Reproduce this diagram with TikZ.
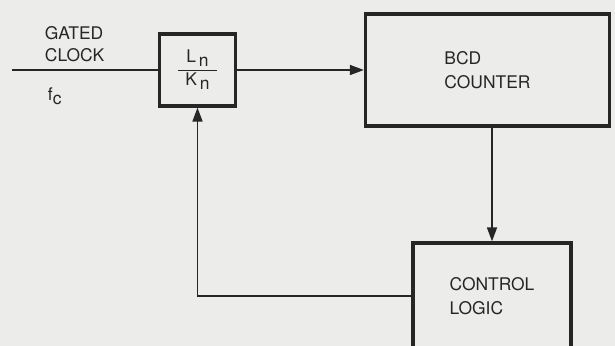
\documentclass[tikz,border=0pt]{standalone}
\usepackage{amsmath}
\usepackage{fontspec}
\setmainfont{TeX Gyre Heros}
\usepackage{xcolor}
\usepackage{tikz}
\usetikzlibrary{arrows.meta,positioning}

\definecolor{paper}{HTML}{ECECEA}
\definecolor{ink}{HTML}{262626}
\newcommand{\lowsub}[1]{\raisebox{-0.45ex}{#1}}

\tikzset{
    block/.style={draw=ink, line width=2.3pt, align=left, inner sep=0pt,
        font=\fontsize{12.4}{17.5}\selectfont, text=ink},
    wire/.style={draw=ink, line width=1.2pt},
    flow/.style={wire, -{Triangle[length=0.35cm,width=0.25cm]}},
    caption/.style={font=\fontsize{12.4}{15.5}\selectfont, text=ink, align=left}
}

\begin{document}
\begin{tikzpicture}[x=0.025cm, y=-0.025cm]
    \useasboundingbox (0,0) rectangle (615,346);
    \clip (0,0) rectangle (615,346);
    \fill[paper] (0,0) rectangle (615,346);
    % blocks
    \node[block, minimum width=1.9cm, minimum height=1.8cm] (ratio) at (197.5,70)
        {$\dfrac{\hspace{0.2cm}\text{L\,\lowsub{n}}\hspace{0.2cm}}{\text{K\,\lowsub{n}}}$};
    \node[block, minimum width=6.1cm, minimum height=2.8cm] (counter) at (487.5,70)
        {BCD\\COUNTER};
    \node[block, minimum width=3.95cm, minimum height=2.65cm] (logic) at (492,296)
        {CONTROL\\LOGIC};
    % input
    \coordinate (in) at (12,70);
    \node[caption, anchor=west] (gated) at (40,44) {GATED\\CLOCK};
    \node[caption, anchor=west] (fc) at (43,96) {f\lowsub{c}};
    % connectors
    \draw[wire] (in) -- (ratio.west);
    \draw[flow] (ratio.east) -- (counter.west);
    \draw[flow] (counter.south -| logic.north) -- (logic.north);
    \draw[flow] (logic.west) -| (ratio.south);
\end{tikzpicture}
\end{document}
